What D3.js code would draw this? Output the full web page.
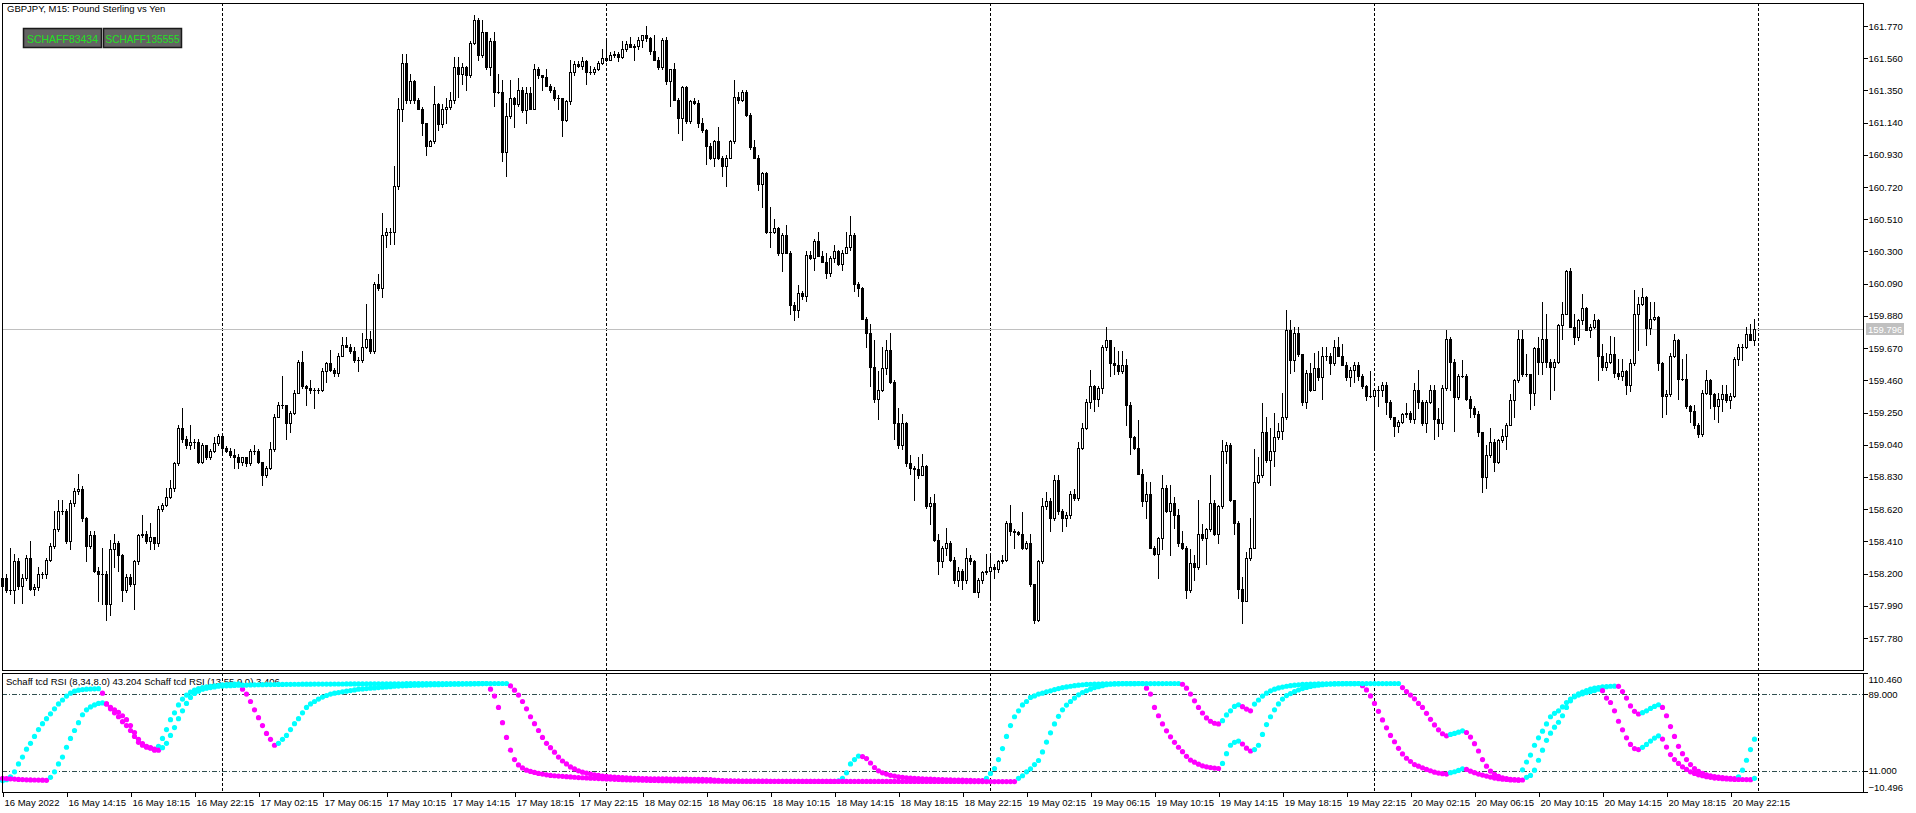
<!DOCTYPE html>
<html>
<head>
<meta charset="utf-8">
<script src="https://cdn.jsdelivr.net/npm/d3@7.9.0/dist/d3.min.js"></script>
<style>
  html, body { margin: 0; padding: 0; background: #fff; overflow: hidden; }
  svg { display: block; font-family: "Liberation Sans", Arial, sans-serif; }
</style>
</head>
<body>
<svg id="chart" width="1916" height="813"></svg>
<script>
/* ---------------------------------------------------------
   DATA  (GBPJPY M15, bars from 16 May 2022 10:15)
   each row = [high, low, close]; a bar opens at the prior close
--------------------------------------------------------- */
const symbolTitle = 'GBPJPY, M15:  Pound Sterling vs Yen';
const buttonLabels = ['SCHAFF83434', 'SCHAFF135555'];
const firstBarTime = new Date(2022, 4, 16, 10, 15);
const firstOpen = 158.12;
const lastPrice = 159.796;

const may16 = [
  [158.21,157.65,158.17],
  [158.20,158.08,158.09],[158.37,158.07,158.09],[158.33,158.01,158.28],[158.30,158.10,158.12],[158.20,158.01,158.17],
  [158.32,158.16,158.30],[158.41,158.09,158.10],[158.13,158.06,158.11],[158.24,158.09,158.20],[158.21,158.17,158.20],
  [158.30,158.17,158.29],[158.40,158.28,158.38],[158.61,158.37,158.49],[158.68,158.48,158.61],[158.68,158.59,158.61],
  [158.62,158.40,158.41],[158.68,158.36,158.66],[158.76,158.64,158.74],[158.85,158.72,158.75],[158.77,158.54,158.56],
  [158.57,158.28,158.38],[158.48,158.37,158.45],[158.48,158.21,158.22],[158.24,158.02,158.20],[158.37,158.00,158.20],
  [158.22,157.90,158.00],[158.42,157.93,158.36],[158.46,158.24,158.40],[158.41,158.22,158.32],[158.33,158.02,158.09],
  [158.20,158.08,158.18],[158.20,158.12,158.13],[158.29,157.97,158.28],[158.46,158.26,158.45],[158.58,158.44,158.46],
  [158.48,158.40,158.41],[158.53,158.36,158.44],[158.44,158.36,158.40],[158.64,158.38,158.62],[158.66,158.61,158.65],
  [158.76,158.64,158.70],[158.81,158.69,158.76],[158.93,158.74,158.92],[159.17,158.91,159.15],[159.28,159.06,159.08],
  [159.10,159.02,159.04],[159.17,159.01,159.06],[159.08,159.02,159.06],[159.08,158.92,158.93],[159.05,158.92,159.04],
  [159.04,158.95,158.96],[159.01,158.95,159.00],[159.09,158.99,159.05],[159.11,159.04,159.10]
];

const may17 = [
  [159.09,158.97,159.02],[159.03,158.99,159.00],[159.02,158.96,158.97],[159.01,158.89,158.96],[158.98,158.89,158.93],
  [158.96,158.91,158.96],[158.96,158.90,158.92],[159.01,158.91,159.00],[159.04,158.98,159.00],[159.01,158.92,158.93],
  [158.93,158.78,158.84],[158.90,158.83,158.89],[159.06,158.88,159.01],[159.24,159.00,159.22],[159.32,159.22,159.30],
  [159.49,159.28,159.30],[159.30,159.08,159.18],[159.26,159.12,159.25],[159.40,159.24,159.38],[159.59,159.38,159.58],
  [159.65,159.41,159.42],[159.43,159.30,159.41],[159.46,159.38,159.40],[159.41,159.28,159.40],[159.41,159.38,159.40],
  [159.54,159.39,159.52],[159.58,159.45,159.57],[159.66,159.52,159.53],[159.54,159.49,159.51],[159.64,159.49,159.62],
  [159.74,159.62,159.69],[159.74,159.68,159.68],[159.70,159.64,159.65],[159.68,159.58,159.59],[159.61,159.52,159.59],
  [159.77,159.58,159.68],[159.96,159.67,159.73],[159.78,159.64,159.65],[160.10,159.64,160.09],[160.15,160.05,160.06],
  [160.55,160.00,160.41],[160.45,160.33,160.43],[160.45,160.35,160.43],[160.86,160.35,160.73],[161.30,160.71,161.23],
  [161.59,161.15,161.53],[161.59,161.27,161.29],[161.46,161.27,161.41],[161.42,161.27,161.29],[161.30,161.23,161.23],
  [161.24,161.06,161.14],[161.14,160.93,160.99],[161.03,160.99,161.02],[161.38,161.01,161.26],[161.27,161.09,161.13],
  [161.26,161.11,161.23],[161.30,161.14,161.24],[161.34,161.23,161.29],[161.57,161.27,161.50],[161.57,161.31,161.46],
  [161.53,161.39,161.50],[161.51,161.35,161.45],[161.67,161.44,161.66],[161.84,161.65,161.81],[161.82,161.55,161.58],
  [161.81,161.57,161.73],[161.73,161.49,161.50],[161.69,161.45,161.67],[161.73,161.25,161.34],[161.46,161.33,161.34],
  [161.42,160.89,160.95],[161.27,160.79,161.18],[161.42,161.17,161.30],[161.31,161.11,161.26],[161.43,161.25,161.35],
  [161.37,161.21,161.22],[161.37,161.14,161.33],[161.37,161.23,161.23],[161.52,161.23,161.49],[161.50,161.43,161.45],
  [161.45,161.35,161.44],[161.49,161.38,161.38],[161.39,161.34,161.35],[161.37,161.29,161.30],[161.32,161.23,161.30],
  [161.30,161.05,161.16],[161.29,161.15,161.28],[161.55,161.26,161.47],[161.54,161.45,161.52],[161.54,161.50,161.51],
  [161.57,161.49,161.54],[161.55,161.39,161.47],[161.51,161.46,161.47],[161.50,161.46,161.49],[161.54,161.48,161.53],
  [161.62,161.52,161.56]
];

const may18 = [
  [161.69,161.54,161.55],[161.60,161.55,161.58],[161.61,161.57,161.59],[161.60,161.54,161.57],[161.67,161.56,161.62],
  [161.67,161.61,161.65],[161.70,161.63,161.63],[161.65,161.55,161.64],[161.70,161.62,161.68],[161.71,161.63,161.71],
  [161.77,161.67,161.69],[161.70,161.59,161.61],[161.71,161.55,161.55],[161.57,161.49,161.50],[161.69,161.49,161.68],
  [161.70,161.39,161.41],[161.49,161.25,161.49],[161.53,161.29,161.29],[161.30,161.07,161.17],[161.38,161.03,161.37],
  [161.38,161.14,161.15],[161.29,161.14,161.28],[161.30,161.26,161.27],[161.29,161.11,161.14],[161.17,161.08,161.09],
  [161.10,160.87,160.99],[161.01,160.90,160.91],[161.03,160.86,161.02],[161.11,160.90,160.91],[160.92,160.79,160.86],
  [160.93,160.73,160.91],[161.03,160.91,161.02],[161.42,161.01,161.31],[161.34,161.27,161.29],[161.35,161.28,161.34],
  [161.35,161.18,161.19],[161.20,160.97,160.98],[161.03,160.91,160.91],[160.93,160.70,160.74],[160.82,160.59,160.81],
  [160.82,160.42,160.43],[160.59,160.33,160.43],[160.51,160.42,160.45],[160.46,160.28,160.29],[160.42,160.17,160.41],
  [160.47,160.29,160.29],[160.30,159.89,159.95],[159.97,159.85,159.92],[160.08,159.87,160.03],[160.04,159.99,160.01],
  [160.30,159.98,160.28],[160.30,160.25,160.26],[160.38,160.18,160.37],[160.43,160.27,160.27],[160.30,160.23,160.23],
  [160.29,160.13,160.16],[160.27,160.14,160.26],[160.34,160.23,160.30],[160.31,160.21,160.22],[160.31,160.18,160.29],
  [160.43,160.29,160.33],[160.53,160.31,160.41],[160.42,160.04,160.09],[160.10,160.01,160.06],[160.07,159.86,159.86],
  [159.87,159.68,159.77],[159.83,159.42,159.55],[159.72,159.32,159.34],[159.52,159.21,159.40],[159.68,159.39,159.54],
  [159.72,159.50,159.66],[159.77,159.44,159.45],[159.46,159.08,159.18],[159.28,159.02,159.04],[159.24,159.01,159.18],
  [159.19,158.90,158.92],[158.97,158.85,158.89],[158.90,158.68,158.88],[158.96,158.82,158.84],[158.98,158.84,158.90],
  [158.91,158.63,158.64],[158.70,158.52,158.66],[158.72,158.41,158.42],[158.46,158.20,158.28],[158.38,158.24,158.37],
  [158.50,158.32,158.40],[158.41,158.28,158.29],[158.31,158.14,158.16],[158.24,158.12,158.22],[158.23,158.10,158.16],
  [158.37,158.14,158.30],[158.32,158.26,158.28],[158.29,158.08,158.08],[158.17,158.05,158.16],[158.22,158.14,158.21],
  [158.33,158.20,158.22]
];

const may19 = [
  [158.33,158.04,158.24],[158.26,158.17,158.23],[158.29,158.21,158.28],[158.32,158.27,158.29],[158.54,158.28,158.53],
  [158.65,158.45,158.48],[158.49,158.37,158.47],[158.48,158.45,158.46],[158.60,158.36,158.37],[158.41,158.36,158.40],
  [158.46,158.12,158.13],[158.13,157.88,157.90],[158.29,157.89,158.28],[158.69,158.27,158.64],[158.73,158.62,158.67],
  [158.69,158.48,158.56],[158.84,158.55,158.81],[158.84,158.59,158.61],[158.62,158.48,158.56],[158.60,158.51,158.58],
  [158.74,158.56,158.72],[158.75,158.68,158.69],[159.06,158.68,159.02],[159.18,159.01,159.15],[159.34,159.14,159.32],
  [159.53,159.28,159.42],[159.43,159.26,159.34],[159.42,159.29,159.41],[159.69,159.38,159.68],[159.81,159.66,159.72],
  [159.72,159.49,159.57],[159.68,159.50,159.56],[159.65,159.50,159.52],[159.65,159.51,159.56],[159.60,159.17,159.30],
  [159.32,158.98,159.09],[159.10,159.01,159.02],[159.20,158.85,158.85],[158.88,158.64,158.67],[158.80,158.56,158.72],
  [158.80,158.37,158.37],[158.38,158.32,158.33],[158.44,158.17,158.43],[158.84,158.36,158.76],[158.78,158.60,158.61],
  [158.78,158.32,158.66],[158.70,158.50,158.58],[158.62,158.38,158.40],[158.48,158.36,158.37],[158.38,158.04,158.09],
  [158.36,158.08,158.27],[158.32,158.16,158.24],[158.68,158.23,158.46],[158.52,158.42,158.43],[158.50,158.26,158.49],
  [158.84,158.48,158.66],[158.68,158.45,158.46],[158.65,158.40,158.64],[159.07,158.63,159.00],[159.06,158.92,159.04],
  [159.05,158.67,158.68],[158.68,158.46,158.53],[158.54,158.04,158.10],[158.18,157.88,158.02],[158.34,158.02,158.30],
  [158.56,158.29,158.37],[159.01,158.37,158.80],[158.96,158.79,158.84],[159.31,158.83,159.12],[159.22,158.93,158.94],
  [159.15,158.78,159.00],[159.25,158.90,159.09],[159.18,159.08,159.13],[159.38,159.08,159.22],[159.92,159.21,159.79],
  [159.85,159.51,159.59],[159.81,159.52,159.77],[159.81,159.62,159.63],[159.63,159.30,159.32],[159.53,159.28,159.51],
  [159.57,159.39,159.40],[159.64,159.40,159.54],[159.65,159.46,159.48],[159.68,159.34,159.62],[159.68,159.59,159.62],
  [159.64,159.50,159.57],[159.72,159.56,159.68],[159.74,159.62,159.62],[159.70,159.56,159.56],[159.58,159.46,159.48],
  [159.55,159.42,159.53],[159.58,159.45,159.56],[159.58,159.46,159.49],[159.50,159.41,159.42],[159.43,159.33,159.36],
  [159.52,159.35,159.36]
];

const may20 = [
  [159.41,159.02,159.40],[159.42,159.29,159.40],[159.45,159.36,159.43],[159.45,159.24,159.32],[159.33,159.21,159.22],
  [159.22,159.10,159.16],[159.20,159.12,159.19],[159.25,159.18,159.24],[159.31,159.22,159.25],[159.26,159.19,159.21],
  [159.44,159.18,159.40],[159.53,159.28,159.32],[159.33,159.17,159.18],[159.33,159.12,159.32],[159.43,159.31,159.40],
  [159.43,159.08,159.21],[159.28,159.10,159.18],[159.43,159.14,159.41],[159.79,159.40,159.73],[159.74,159.40,159.58],
  [159.60,159.13,159.35],[159.50,159.34,159.49],[159.59,159.48,159.49],[159.50,159.33,159.34],[159.36,159.22,159.28],
  [159.29,159.22,159.24],[159.26,159.10,159.12],[159.12,158.73,158.83],[159.04,158.76,158.97],[159.15,158.96,159.06],
  [159.08,158.87,158.93],[159.08,158.92,159.07],[159.14,159.06,159.10],[159.18,159.01,159.17],[159.37,159.17,159.33],
  [159.47,159.22,159.46],[159.79,159.45,159.73],[159.79,159.49,159.50],[159.63,159.49,159.50],[159.50,159.27,159.38],
  [159.68,159.30,159.67],[159.74,159.50,159.58],[159.97,159.50,159.73],[159.89,159.55,159.58],[159.60,159.34,159.55],
  [159.60,159.40,159.58],[159.83,159.57,159.82],[159.97,159.73,159.89],[160.18,159.89,160.17],[160.19,159.81,159.81],
  [159.89,159.70,159.74],[159.86,159.72,159.85],[160.02,159.83,159.93],[159.94,159.79,159.79],[159.83,159.74,159.81],
  [159.89,159.80,159.85],[159.86,159.46,159.62],[159.70,159.53,159.55],[159.64,159.53,159.58],[159.75,159.57,159.63],
  [159.74,159.48,159.51],[159.60,159.47,159.49],[159.60,159.46,159.52],[159.53,159.37,159.43],[159.60,159.39,159.57],
  [160.05,159.56,159.89],[160.00,159.66,159.96],[160.06,159.95,160.00],[160.01,159.69,159.80],[159.97,159.76,159.86],
  [159.97,159.85,159.87],[159.88,159.53,159.57],[159.58,159.22,159.36],[159.40,159.24,159.37],[159.64,159.36,159.62],
  [159.76,159.61,159.72],[159.73,159.34,159.47],[159.60,159.46,159.47],[159.63,159.28,159.29],[159.30,159.19,159.26],
  [159.30,159.15,159.17],[159.18,159.09,159.11],[159.40,159.10,159.38],[159.53,159.37,159.46],[159.47,159.28,159.37],
  [159.38,159.21,159.29],[159.38,159.19,159.34],[159.43,159.26,159.37],[159.43,159.32,159.33],[159.38,159.28,159.36],
  [159.61,159.35,159.60],[159.70,159.56,159.68],[159.70,159.59,159.68],[159.81,159.67,159.76],[159.83,159.72,159.72],
  [159.86,159.69,159.796]
];

// Schaff tcd RSI (8,34,8.0) - one value per bar
const stcFast = [
  1,2,5,10,18,25,33,39,46,53,59,64,69,74,79,83,87,90,92,93,93.6,94,94.2,94.4,94.5,
  90,79,74,70,66,61,57,52,46,40,37,35,34,32,
  36,44,53,63,70,78,84,88,91,93,94.5,95.5,96.5,97,97.5,98,
  98.3,98.6,98.9,99.2,99.4,
  94,89,81.5,73,65,57,49,43,37,
  39,43,47,53,59,64,70,75.5,79,81.5,84,86,87.6,89,90,90.6,91.3,92,92.6,93.3,94,94.3,94.6,95,95.3,95.6,96,96.3,96.6,97,97.2,97.4,
  97.6,97.8,98,98.1,98.2,98.3,98.4,98.5,98.6,98.7,98.8,98.9,99,99.1,99.2,99.3,99.4,99.5,99.6,99.7,
  99.8,
  94,87,75.5,60,45,32,22.5,17,14,11.7,10.4,9.4,8.4,7.7,7,6.4,6,5.7,5.4,5.1,4.8,4.5,4.2,4,3.8,3.6,3.4,3.2,3,2.8,2.6,2.4,2.2,2,1.9,1.8,1.7,1.6,1.5,
  1.4,1.3,1.2,1.1,1.0,0.95,0.9,0.85,0.8,0.76,0.72,0.69,0.66,0.63,0.6,0.58,0.56,0.54,0.52,0.5,0.49,0.48,0.47,0.46,0.45,0.44,0.43,0.42,0.41,0.4,
  0.39,0.38,0.37,0.36,0.35,0.34,0.33,0.32,0.31,0.3,0.29,0.28,0.27,0.26,0.25,0.24,0.23,0.22,
  0.8,3.4,9,18,22.5,26,
  25.5,23.5,19,14.4,11,9,7.7,6.5,5.7,5,4.4,4,3.7,3.4,3.1,2.9,2.7,2.5,2.3,2.1,2,1.9,1.8,1.7,1.6,1.5,1.4,1.3,1.2,1.1,1.0,
  3.4,8.4,13.4,22.5,33.6,46,57,66,72,78,
  81.5,85.6,87.2,89,90,91.3,92.3,93.6,94.6,95.6,96.3,97,97.6,98.1,98.5,98.8,99,99.2,99.3,99.4,99.5,99.55,99.6,99.65,99.7,99.72,99.74,99.76,99.78,99.8,
  95,89,75.5,67,58.7,51.7,45.6,40,35,30.5,25.8,22,19.8,17.8,16.1,15.1,14.4,13.8,13.4,
  18.5,28.5,37,40,41.3,
  38.3,34,31.2,
  32.6,37,48,58,66,73,79,84,87.5,89.5,91.5,93.2,94.6,95.8,96.8,97.5,98,98.5,98.9,99.2,99.4,99.55,99.65,99.7,99.72,99.75,99.78,
  97.6,93.3,87.2,79.5,71.5,62.8,54.7,47,40.6,33.9,28.2,23.8,20.5,17.4,15.8,14.1,12.4,11.1,9.7,8.7,8.1,7.7,
  9.1,10.1,11.4,13.1,
  12.4,10.7,9.1,7.7,6.7,5.7,4.7,3.7,3,2.5,2.2,1.8,1.7,1.5,
  12,20,27,37,44.6,51.3,58.7,66,69.5,72,76,80.5,84,87,89.3,91,92.6,94,95,95.6,96.3,96.6,97,97.1,
  96.9,91.6,85,77,71.5,68.8,
  70.1,72,74.5,76.5,78.2,
  75.5,67,56,46,35.9,28.5,22.5,17.4,13.4,10.4,8.4,7,6,5.2,4.6,4.1,3.7,3.4,3.2,
  5,11.7,21.8,32.6,43.204
];

// Schaff tcd RSI (13,55,9.0) - one value per bar
const stcSlow = [
  3.4,3.2,2.9,2.6,2.3,2.1,1.9,1.8,1.7,1.6,1.5,1.4,
  4.4,10,18,25,35,44,52,60,68,73,76,78,79.5,80,
  79,75.5,73,70.5,67,63,57,50,43,38.6,36,34.6,33.2,32,
  34.6,39,47,55,64,72,79.5,85.6,89.6,92,94,95,95.6,96.3,97,
  97.2,97.4,97.6,97.8,98,98.1,98.2,98.3,98.4,98.5,
  98.6,98.65,98.7,98.75,98.8,98.85,98.9,98.95,99,99.05,99.1,99.12,99.14,99.16,99.18,99.2,99.22,99.24,99.26,99.28,
  99.3,99.32,99.34,99.36,99.38,99.4,99.42,99.44,99.46,99.48,99.5,99.51,99.52,99.53,99.54,99.55,99.56,99.57,99.58,99.59,
  99.6,99.61,99.62,99.63,99.64,99.65,99.66,99.67,99.68,99.69,99.7,99.71,99.72,99.73,99.74,99.75,99.76,99.77,99.78,99.79,
  99.8,99.8,
  97.3,93,88,81.5,74,66,59,52,45,39,34.6,30,25,21,18,15,13,11,9.7,8.7,7.7,7,6.4,5.7,5.4,5,4.7,4.4,4.1,3.9,3.7,3.5,3.3,3.1,
  3.0,2.95,2.9,2.85,2.8,2.75,2.7,2.65,2.6,2.55,2.5,2.45,2.4,2.35,2.3,2.2,2.0,
  1.7,1.4,1.1,0.9,0.8,0.7,0.6,0.55,
  0.5,0.5,0.49,0.48,0.47,0.46,0.45,0.44,0.43,0.42,0.41,0.4,0.39,0.38,0.37,0.36,0.35,0.34,0.33,0.32,
  0.31,0.3,0.3,0.29,0.28,0.28,0.27,0.26,0.26,0.25,0.25,0.24,0.24,0.23,0.23,0.22,0.22,0.21,0.21,0.2,
  0.2,0.2,0.19,0.19,0.19,0.18,0.18,0.18,0.17,0.17,0.17,0.16,0.16,0.16,0.15,0.15,0.15,0.14,0.14,0.14,
  0.13,0.13,0.13,0.12,0.12,0.12,0.11,0.11,
  3.4,6,10,13.1,17.4,21.5,30.2,40.3,49.7,58.7,66.4,73,77.9,81.5,85,88.3,90.6,92.3,94,95.6,96.6,97.6,98.6,
  99,99.3,99.5,99.6,99.6,99.65,99.65,99.7,99.7,99.7,99.72,99.74,99.75,99.76,99.77,99.78,99.79,99.8,
  99,95,89,82.2,75.5,69.8,64.8,61.4,59.4,58.7,
  62,67.8,72,76.5,78.2,
  76.2,73.8,72,
  78.9,83,87,90,92.3,94,95.3,96.2,97,97.6,98.1,98.5,98.8,99,99.2,99.3,99.4,99.5,
  99.52,99.54,99.56,99.58,99.6,99.62,99.64,99.66,99.68,99.7,99.71,99.72,99.73,99.74,99.75,99.76,99.78,99.8,
  99.8,
  95.6,91.6,88,84.2,79.5,75.5,69.5,63.4,57.7,52.7,48.7,46.6,
  48,49,50.3,51.7,
  50,45.3,38.6,31.2,22.5,15.8,10.7,7.4,5.4,4,3,2.3,2,1.8,1.7,
  4.4,6.4,11.7,21.8,32,42,49.3,55.4,60.4,67,75.5,82.2,86.2,88,89.3,90.6,91.6,92.6,94,
  92.5,85,80.5,72,61.4,52.7,44.6,37.9,33.6,32.6,
  34.9,37.9,41.3,44.3,46.6,
  43.3,35.2,27.5,22.5,18.5,15.1,12.4,10,8.4,7,6,5,4.4,3.7,3.4,3,2.7,2.5,2.3,2.2,2.2,2.1,2.0,
  3.406
];

const priceTicks = [161.77, 161.56, 161.35, 161.14, 160.93, 160.72, 160.51, 160.30, 160.09, 159.88,
                    159.67, 159.46, 159.25, 159.04, 158.83, 158.62, 158.41, 158.20, 157.99, 157.78];
const stcTicks = [110.46, 89, 11, -10.496];
const stcLevels = [89, 11];
const monthNames = ['Jan','Feb','Mar','Apr','May','Jun','Jul','Aug','Sep','Oct','Nov','Dec'];

/* ---------------------------------------------------------
   BUILD BARS
--------------------------------------------------------- */
const rows = [...may16, ...may17, ...may18, ...may19, ...may20];
const candles = rows.map(([high, low, close], i) => {
  const open = i === 0 ? firstOpen : rows[i - 1][2];
  return {
    i,
    time: new Date(firstBarTime.getTime() + i * 15 * 60000),
    open, close,
    high: Math.max(high, open, close),
    low: Math.min(low, open, close),
  };
});

/* ---------------------------------------------------------
   LAYOUT + SCALES
--------------------------------------------------------- */
const F = { left: 2, right: 1863, top: 3, mainBottom: 670, indTop: 673, indBottom: 792 };

const x = d3.scaleLinear().domain([0, rows.length - 1]).range([2, 2 + 4 * (rows.length - 1)]);
const y = d3.scaleLinear().domain([157.78, 161.77]).range([638, 26]);
const yInd = d3.scaleLinear().domain([-10.496, 110.46]).range([F.indBottom, F.indTop]);

const svg = d3.select('#chart');
svg.append('rect').attr('width', 1916).attr('height', 813).attr('fill', '#fff');

/* ---------------------------------------------------------
   DAY SEPARATORS (dashed)
--------------------------------------------------------- */
const midnights = d3.range(0, rows.length + 1).filter((i) => {
  const t = new Date(firstBarTime.getTime() + i * 15 * 60000);
  return t.getHours() === 0 && t.getMinutes() === 0;
});

const grid = svg.append('g').attr('shape-rendering', 'crispEdges');
[[F.top, F.mainBottom], [F.indTop, F.indBottom]].forEach(([y0, y1]) => {
  grid.selectAll(null)
    .data(midnights)
    .join('line')
    .attr('x1', (d) => x(d) + 0.5).attr('x2', (d) => x(d) + 0.5)
    .attr('y1', y0).attr('y2', y1)
    .attr('stroke', '#000')
    .attr('stroke-dasharray', '3,2');
});

/* ---------------------------------------------------------
   CURRENT PRICE LINE
--------------------------------------------------------- */
svg.append('line')
  .attr('x1', F.left).attr('x2', F.right)
  .attr('y1', Math.round(y(lastPrice)) + 0.5).attr('y2', Math.round(y(lastPrice)) + 0.5)
  .attr('stroke', '#c0c0c0')
  .attr('shape-rendering', 'crispEdges');

/* ---------------------------------------------------------
   CANDLES
--------------------------------------------------------- */
const gC = svg.append('g').attr('shape-rendering', 'crispEdges');

gC.selectAll('rect.wick')
  .data(candles)
  .join('rect')
  .attr('class', 'wick')
  .attr('x', (d) => x(d.i))
  .attr('y', (d) => Math.round(y(d.high)))
  .attr('width', 1)
  .attr('height', (d) => Math.round(y(d.low)) - Math.round(y(d.high)) + 1)
  .attr('fill', '#000');

gC.selectAll('rect.body')
  .data(candles)
  .join('rect')
  .attr('class', 'body')
  .each(function (d) {
    const yo = Math.round(y(d.open));
    const yc = Math.round(y(d.close));
    const el = d3.select(this);
    if (d.close > d.open) {
      el.attr('x', x(d.i) - 0.5).attr('y', yc + 0.5)
        .attr('width', 2).attr('height', Math.max(yo - yc, 1))
        .attr('fill', '#fff').attr('stroke', '#000');
    } else {
      el.attr('x', x(d.i) - 1).attr('y', Math.min(yo, yc))
        .attr('width', 3).attr('height', Math.abs(yc - yo) + 1)
        .attr('fill', '#000');
    }
  });

/* ---------------------------------------------------------
   INDICATOR PANEL
--------------------------------------------------------- */
const gI = svg.append('g');

gI.selectAll('line.level')
  .data(stcLevels)
  .join('line')
  .attr('class', 'level')
  .attr('x1', F.left).attr('x2', F.right)
  .attr('y1', (d) => Math.round(yInd(d)) + 0.5).attr('y2', (d) => Math.round(yInd(d)) + 0.5)
  .attr('stroke', '#2f4f4f')
  .attr('stroke-dasharray', '5,2,1,2')
  .attr('shape-rendering', 'crispEdges');

gI.append('text')
  .attr('x', 6).attr('y', 685)
  .attr('font-size', '9.5px')
  .attr('fill', '#000')
  .text(`Schaff tcd RSI (8,34,8.0) ${stcFast[stcFast.length - 1].toFixed(3)} ` +
        `Schaff tcd RSI (13,55,9.0) ${stcSlow[stcSlow.length - 1].toFixed(3)}`);

function dotColors(values, startColor) {
  let c = startColor;
  return values.map((v, i) => {
    if (i > 0 && v > values[i - 1]) c = '#00ffff';
    else if (i > 0 && v < values[i - 1]) c = '#ff00ff';
    return c;
  });
}

[[stcFast, '#00ffff'], [stcSlow, '#ff00ff']].forEach(([vals, c0]) => {
  const cols = dotColors(vals, c0);
  gI.append('g')
    .selectAll('circle')
    .data(vals)
    .join('circle')
    .attr('cx', (d, i) => x(i) + 0.5)
    .attr('cy', (d) => yInd(d))
    .attr('r', 2.6)
    .attr('fill', (d, i) => cols[i]);
});

/* ---------------------------------------------------------
   FRAMES
--------------------------------------------------------- */
const frames = svg.append('g')
  .attr('fill', 'none').attr('stroke', '#000')
  .attr('shape-rendering', 'crispEdges');
frames.append('rect')
  .attr('x', F.left + 0.5).attr('y', F.top + 0.5)
  .attr('width', F.right - F.left).attr('height', F.mainBottom - F.top);
frames.append('rect')
  .attr('x', F.left + 0.5).attr('y', F.indTop + 0.5)
  .attr('width', F.right - F.left).attr('height', F.indBottom - F.indTop);

/* ---------------------------------------------------------
   AXES
--------------------------------------------------------- */
const priceAxis = svg.append('g')
  .attr('transform', `translate(${F.right + 0.5},0)`)
  .call(d3.axisRight(y).tickValues(priceTicks).tickSize(4).tickPadding(1)
    .tickFormat(d3.format('.3f')));

const stcAxis = svg.append('g')
  .attr('transform', `translate(${F.right + 0.5},0)`)
  .call(d3.axisRight(yInd).tickValues(stcTicks).tickSize(4).tickPadding(1)
    .tickFormat(d3.format('.3f')));
stcAxis.selectAll('.tick text')
  .attr('dy', (d) => (d === 110.46 ? '0.95em' : d === -10.496 ? '-0.2em' : '0.32em'));

const labelBars = d3.range(0, rows.length, 16);
const fmtLabel = (i) => {
  const t = candles[i].time;
  if (i === 0) return `${t.getDate()} ${monthNames[t.getMonth()]} ${t.getFullYear()}`;
  return `${t.getDate()} ${monthNames[t.getMonth()]} ${d3.timeFormat('%H:%M')(t)}`;
};
const timeAxis = svg.append('g')
  .attr('transform', `translate(0,${F.indBottom + 0.5})`)
  .call(d3.axisBottom(x).tickValues(labelBars).tickSize(4).tickPadding(3).tickFormat(fmtLabel));
timeAxis.selectAll('.tick line').attr('transform', 'translate(0.5,0)');
timeAxis.selectAll('.tick text').attr('text-anchor', 'start').attr('x', 2);

[priceAxis, stcAxis, timeAxis].forEach((g) => {
  g.select('.domain').remove();
  g.attr('font-size', '9.5px').attr('font-family', '"Liberation Sans", Arial, sans-serif')
   .attr('shape-rendering', 'crispEdges');
  g.selectAll('.tick text').attr('fill', '#000');
  g.selectAll('.tick line').attr('stroke', '#000');
});

// last price tag
const yLast = Math.round(y(lastPrice));
svg.append('rect')
  .attr('x', 1866).attr('y', yLast - 6).attr('width', 38).attr('height', 12)
  .attr('fill', '#c0c0c0');
svg.append('text')
  .attr('x', 1868).attr('y', yLast + 3.5)
  .attr('font-size', '9.5px').attr('fill', '#fff')
  .text(d3.format('.3f')(lastPrice));

/* ---------------------------------------------------------
   TITLE + BUTTONS
--------------------------------------------------------- */
svg.append('text')
  .attr('x', 7).attr('y', 12)
  .attr('font-size', '9.5px').attr('fill', '#000')
  .text(symbolTitle);

const buttons = svg.append('g')
  .selectAll('g')
  .data(buttonLabels)
  .join('g')
  .attr('transform', (d, i) => `translate(${23 + i * 80},28)`);
buttons.append('rect')
  .attr('x', 0.5).attr('y', 0.5).attr('width', 78).attr('height', 19)
  .attr('fill', '#636363').attr('stroke', '#1a1a1a').attr('stroke-width', 1.5);
buttons.append('text')
  .attr('x', 39.5).attr('y', 14.5)
  .attr('text-anchor', 'middle')
  .attr('font-size', '11.5px')
  .attr('fill', '#22e022')
  .attr('textLength', (d) => (d.length > 11 ? 74 : 71))
  .attr('lengthAdjust', 'spacingAndGlyphs')
  .text((d) => d);
</script>
</body>
</html>
